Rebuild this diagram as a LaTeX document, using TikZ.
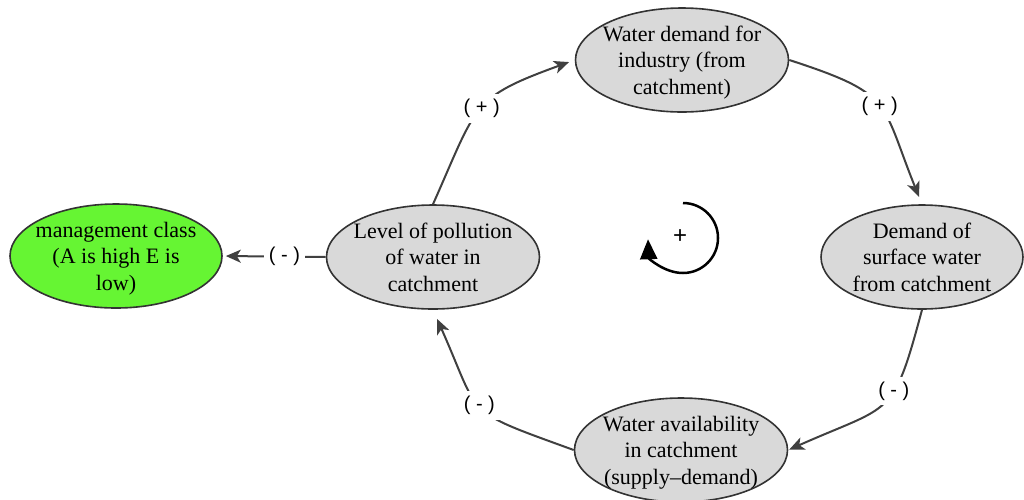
\documentclass[tikz,border=0pt]{standalone}
\usepackage{fontspec}
\setmainfont{Liberation Serif}
\newfontfamily\signfont{Liberation Sans}
\usetikzlibrary{shapes.geometric,arrows.meta}
\definecolor{nodegray}{RGB}{217,217,217}
\definecolor{classgreen}{RGB}{102,245,51}
\begin{document}
\begin{tikzpicture}[x=1pt,y=1pt,
  factor/.style={ellipse,draw=black!80,line width=1.6pt,fill=nodegray,
    inner sep=-40pt,minimum width=213pt,minimum height=104pt,align=center,
    text depth=-2pt,font=\fontsize{22}{26.5}\selectfont},
  link/.style={draw=black!75,line width=2pt,
    -{Stealth[length=15pt,width=13pt,inset=4pt]}},
  sign/.style={fill=white,inner sep=5pt,font=\signfont\fontsize{20}{24}\selectfont}]
\useasboundingbox (0,0) rectangle (1024,-499);

% factors of the loop
\node[factor] (ind)   at (682,-60)  {Water demand for\\industry (from\\catchment)};
\node[factor,minimum width=202pt] (surf) at (922,-257) {Demand of\\surface water\\from catchment};
\node[factor] (avail) at (681,-450) {Water availability\\in catchment\\(supply--demand)};
\node[factor] (pol)   at (433,-257) {Level of pollution\\of water in\\catchment};
\node[factor,fill=classgreen,minimum width=212pt] (cls) at (116,-256)
  {management class\\(A is high E is\\low)};

% causal links
\draw[link,shorten >=6pt] (pol.north) to[out=66,in=200,looseness=1.4]
  node[sign]{( + )} (ind.west);
\draw[link,shorten >=8pt] (ind.east) to[out=-18,in=112,looseness=1.45]
  node[sign]{( + )} (surf.north);
\draw[link,shorten >=1pt] (surf.south) to[out=-105,in=24,looseness=1.5]
  node[sign,pos=0.38]{( - )} (avail.east);
\draw[link,shorten >=10pt] (avail.west) to[out=160,in=-66,looseness=1.55]
  node[sign]{( - )} (pol.south);
\draw[link,shorten >=3pt] (pol.west) -- node[sign,pos=0.4]{( - )} (cls.east);

% loop polarity marker
\draw[line width=2.5pt,-{Triangle[length=20pt,width=17pt]}]
  (683,-203) arc[start angle=90,end angle=-178,radius=35];
\node[font=\signfont\fontsize{24}{26}\selectfont] (loopsign) at (680,-237) {+};
\end{tikzpicture}
\end{document}
